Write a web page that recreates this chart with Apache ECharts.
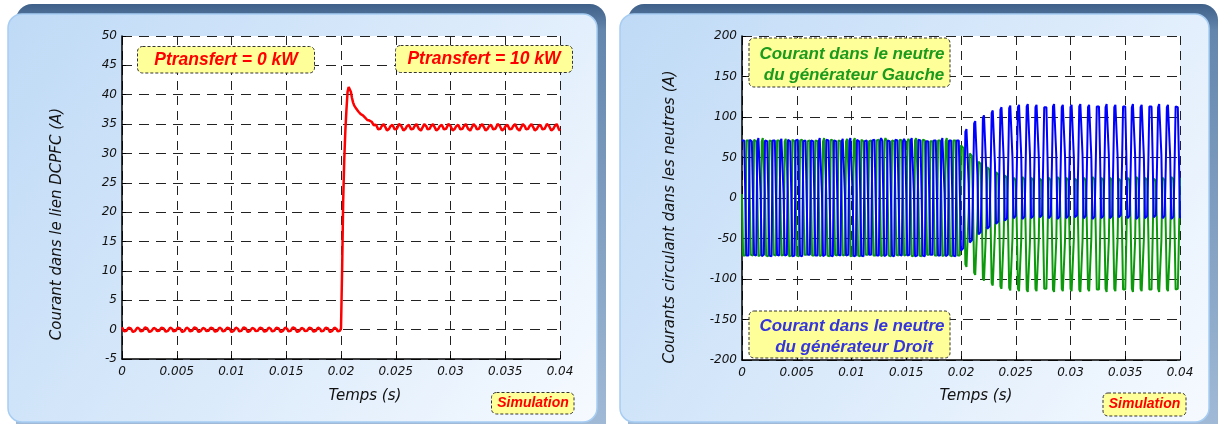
<!DOCTYPE html>
<html><head><meta charset="utf-8">
<script src="https://cdn.jsdelivr.net/npm/echarts@6/dist/echarts.min.js"></script>
<style>html,body{margin:0;padding:0;background:#fff}#c{width:1220px;height:424px}</style>
</head><body><div id="c"></div>
<script>
// sampling step of the simulation traces (s)
const dt = 0.0001;
const timeRange = [0, 0.04];
const timeInterval = 0.005;
const leftYRange = [-5, 50], leftYInterval = 5;
const rightYRange = [-200, 200], rightYInterval = 50;

// Courant dans le lien DCPFC (A), one value every dt
const dcLinkCurrent = [
0.4,0.1,-0.3,-0.45,-0.2,0.1,0.35,0.4,0.2,-0.1,-0.4,-0.45,-0.2,0.1,0.35,
0.35,0.1,-0.3,-0.4,-0.2,0.1,0.4,0.4,0.2,-0.1,-0.4,-0.4,-0.2,0.1,0.3,
0.4,0.1,-0.25,-0.45,-0.2,0.1,0.35,0.45,0.2,-0.1,-0.35,-0.45,-0.2,0.1,0.35,
0.4,0.1,-0.3,-0.45,-0.2,0.1,0.35,0.4,0.2,-0.1,-0.4,-0.45,-0.2,0.1,0.35,
0.35,0.1,-0.3,-0.4,-0.2,0.1,0.4,0.4,0.2,-0.1,-0.4,-0.4,-0.2,0.1,0.3,
0.4,0.1,-0.25,-0.45,-0.2,0.1,0.35,0.45,0.2,-0.1,-0.35,-0.45,-0.2,0.1,0.35,
0.4,0.1,-0.3,-0.45,-0.2,0.1,0.35,0.4,0.2,-0.1,-0.4,-0.45,-0.2,0.1,0.35,
0.35,0.1,-0.3,-0.4,-0.2,0.1,0.4,0.4,0.2,-0.1,-0.4,-0.4,-0.2,0.1,0.3,
0.4,0.1,-0.25,-0.45,-0.2,0.1,0.35,0.45,0.2,-0.1,-0.35,-0.45,-0.2,0.1,0.35,
0.4,0.1,-0.3,-0.45,-0.2,0.1,0.35,0.4,0.2,-0.1,-0.4,-0.45,-0.2,0.1,0.35,
0.35,0.1,-0.3,-0.4,-0.2,0.1,0.4,0.4,0.2,-0.1,-0.4,-0.4,-0.2,0.1,0.3,
0.4,0.1,-0.25,-0.45,-0.2,0.1,0.35,0.45,0.2,-0.1,-0.35,-0.45,-0.2,0.1,0.35,
0.4,0.1,-0.3,-0.45,-0.2,0.1,0.35,0.4,0.2,-0.1,-0.4,-0.45,-0.2,0.1,0.35,
0.4,0.1,-0.3,-0.4,-0.2,
0.2,10,22,29,34,37.5,40.5,41.3,41.2,40.5,39.5,38.7,38.2,37.9,37.6,37.3,
37.1,36.9,36.7,36.6,36.5,36.2,36.1,35.9,35.7,35.8,35.6,35.3,35.4,35.1,34.8,35.0,
34.9,34.6,34.1,33.9,34.2,34.6,34.9,35.0,34.7,34.3,33.9,33.9,34.2,34.6,34.9,
34.9,34.5,34.1,33.9,34.2,34.6,35.0,35.0,34.7,34.3,33.9,33.8,34.2,34.6,34.9,
34.9,34.6,34.1,33.8,34.2,34.6,34.9,35.0,34.7,34.2,33.9,33.9,34.2,34.6,35.0,
34.9,34.6,34.1,33.9,34.2,34.6,34.9,35.0,34.7,34.3,33.9,33.9,34.2,34.6,34.9,
34.9,34.5,34.1,33.9,34.2,34.6,35.0,35.0,34.7,34.3,33.9,33.8,34.2,34.6,34.9,
34.9,34.6,34.1,33.8,34.2,34.6,34.9,35.0,34.7,34.2,33.9,33.9,34.2,34.6,35.0,
34.9,34.6,34.1,33.9,34.2,34.6,34.9,35.0,34.7,34.3,33.9,33.9,34.2,34.6,34.9,
34.9,34.5,34.1,33.9,34.2,34.6,35.0,35.0,34.7,34.3,33.9,33.8,34.2,34.6,34.9,
34.9,34.6,34.1,33.8,34.2,34.6,34.9,35.0,34.7,34.2,33.9,33.9,34.2,34.6,35.0,
34.9,34.6,34.1,33.9,34.2,34.6,34.9,35.0,34.7,34.3,33.9,33.9,34.2,34.6,34.9,
34.9,34.5,34.1,33.9,34.2,34.6,35.0,35.0,34.7,34.3,33.9,33.8,34.2,34.6,34.9,
35.0,34.6,34.1,33.9
];

// Courant dans le neutre du générateur Gauche (A)
const neutralLeftGen = [
5,-71,-73,-71,71,73,71, 4,-70,-72,-71,72,72,70, 6,-72,-74,-70,70,74,72, 5,-71,-73,-72,71,73,70,
5,-70,-72,-71,71,72,71, 4,-71,-73,-70,70,73,71, 6,-72,-74,-71,72,74,70, 5,-71,-73,-72,71,73,72,
5,-70,-72,-70,70,72,71, 4,-71,-73,-71,71,73,70, 6,-72,-74,-70,70,74,72, 5,-71,-73,-72,72,73,71,
5,-70,-72,-71,71,72,70, 4,-71,-73,-70,70,73,71, 6,-72,-74,-71,71,74,72, 5,-71,-73,-72,72,73,70,
5,-70,-72,-70,70,72,71, 4,-71,-73,-71,71,73,72, 6,-72,-74,-70,70,74,71, 5,-71,-73,-72,71,73,70,
5,-70,-72,-71,72,72,71, 4,-71,-73,-70,70,73,70, 6,-72,-74,-71,71,74,72, 5,-71,-73,-72,72,73,71,
5,-70,-72,-70,70,72,70, 4,-71,-73,-71,71,73,71, 6,-72,-74,-70,70,74,72, 5,-71,-73,-72,71,73,71,
5,-71,-73,-71,
65,64,62,-3,-82,-85,-83,-18,
55,54,52,-13,-92,-95,-93,-28,
45,44,42,-21,-99,-102,-100,-36,
38,37,35,-28,-105,-108,-106,-42,
32,31,29,-33,-109,-112,-110,-47,
28,27,25,-36,-111,-114,-112,-50,
25,24,22,-38,-112,-115,-113,-52,
26,25,23,-37,-113,-116,-114,-53,
25,24,22,-38,-112,-115,-113,-52,
24,23,21,-39,-112,-114,-112,-51,
25,24,22,-38,-113,-116,-114,-53,
26,25,23,-37,-112,-115,-113,-52,
25,24,22,-38,-112,-115,-113,-52,
24,24,21,-38,-113,-116,-114,-53,
25,24,22,-38,-112,-115,-113,-51,
26,25,23,-37,-113,-115,-113,-52,
25,24,22,-38,-112,-116,-114,-53,
25,23,22,-39,-112,-115,-113,-52,
24,24,21,-38,-113,-115,-113,-52,
25,24,22,-38,-112,-116,-114,-53,
26,25,23,-37,-112,-115,-113,-51,
25,24,22,-38,-113,-115,-113,-52,
24,23,21,-39,-112,-116,-114,-53,
25,24,22,-38,-112,-115,-113,-52,
26,25,23,-37,-113,-115,-112,-51,
25
];

// Courant dans le neutre du générateur Droit (A)
const neutralRightGen = [
71,73,71,5,-71,-73,-71, 72,72,70,4,-70,-72,-71, 70,74,72,6,-72,-74,-70, 71,73,70,5,-71,-73,-72,
71,72,71,5,-70,-72,-71, 70,73,71,4,-71,-73,-70, 72,74,70,6,-72,-74,-71, 71,73,72,5,-71,-73,-72,
70,72,71,5,-70,-72,-70, 71,73,70,4,-71,-73,-71, 70,74,72,6,-72,-74,-70, 72,73,71,5,-71,-73,-72,
71,72,70,5,-70,-72,-71, 70,73,71,4,-71,-73,-70, 71,74,72,6,-72,-74,-71, 72,73,70,5,-71,-73,-72,
70,72,71,5,-70,-72,-70, 71,73,72,4,-71,-73,-71, 70,74,71,6,-72,-74,-70, 71,73,70,5,-71,-73,-72,
72,72,71,5,-70,-72,-71, 70,73,70,4,-71,-73,-70, 71,74,72,6,-72,-74,-71, 72,73,71,5,-71,-73,-72,
70,72,70,5,-70,-72,-70, 71,73,71,4,-71,-73,-71, 70,74,72,6,-72,-74,-70, 71,73,71,5,-71,-73,-72,
71,73,71,5,
-65,-64,-62,3,82,85,83,18,
-55,-54,-52,13,92,95,93,28,
-45,-44,-42,21,99,102,100,36,
-38,-37,-35,28,105,108,106,42,
-32,-31,-29,33,109,112,110,47,
-28,-27,-25,36,111,114,112,50,
-25,-24,-22,38,112,115,113,52,
-26,-25,-23,37,113,116,114,53,
-25,-24,-22,38,112,115,113,52,
-24,-23,-21,39,112,114,112,51,
-25,-24,-22,38,113,116,114,53,
-26,-25,-23,37,112,115,113,52,
-25,-24,-22,38,112,115,113,52,
-24,-24,-21,38,113,116,114,53,
-25,-24,-22,38,112,115,113,51,
-26,-25,-23,37,113,115,113,52,
-25,-24,-22,38,112,116,114,53,
-25,-23,-22,39,112,115,113,52,
-24,-24,-21,38,113,115,113,52,
-25,-24,-22,38,112,116,114,53,
-26,-25,-23,37,112,115,113,51,
-25,-24,-22,38,113,115,113,52,
-24,-23,-21,39,112,116,114,53,
-25,-24,-22,38,112,115,113,52,
-26,-25,-23,37,113,115,112,51,
-25
];

const toPairs = arr => arr.map((v, i) => [+(i * dt).toFixed(4), v]);

const chart = echarts.init(document.getElementById('c'), null, {renderer: 'canvas'});
const LG = echarts.graphic.LinearGradient;

const tickFont = {fontFamily: 'DejaVu Sans', fontStyle: 'italic', fontSize: 12, color: '#111'};
function xAxisCfg(gi) {
  return {
    gridIndex: gi, type: 'value', min: timeRange[0], max: timeRange[1], interval: timeInterval,
    axisLine: {show: true, onZero: false, lineStyle: {color: '#000', width: 1.5}},
    axisTick: {show: true, inside: true, length: 4, lineStyle: {color: '#000'}},
    axisLabel: Object.assign({margin: 7}, tickFont),
    splitLine: {show: true, lineStyle: {color: '#222', type: [9, 6], width: 1}}
  };
}
function yAxisCfg(gi, range, interval) {
  return {
    gridIndex: gi, type: 'value', min: range[0], max: range[1], interval: interval,
    axisLine: {show: true, onZero: false, lineStyle: {color: '#000', width: 1.5}},
    axisTick: {show: true, inside: true, length: 4, lineStyle: {color: '#000'}},
    axisLabel: Object.assign({margin: 5}, tickFont),
    splitLine: {show: true, lineStyle: {color: '#222', type: [10, 7], width: 1}}
  };
}

function panel(x0) {
  return [
    {type: 'rect', z: -20, silent: true,
     shape: {x: x0 + 16, y: 4, width: 590, height: 440, r: 16},
     style: {fill: new LG(0, 0, 0, 1, [{offset: 0, color: '#3f6088'}, {offset: 0.06, color: '#6486ad'}, {offset: 1, color: '#a3bcd8'}])}},
    {type: 'rect', z: -19, silent: true,
     shape: {x: x0 + 8, y: 14, width: 589, height: 408, r: 14},
     style: {fill: new LG(0, 0, 1, 1, [{offset: 0, color: '#bfdaf6'}, {offset: 0.55, color: '#dcebfb'}, {offset: 1, color: '#f6faff'}]),
             stroke: '#a7cdf3', lineWidth: 1.5}}
  ];
}
function box(x, y, w, h) {
  return {type: 'rect', z: 50, silent: true, shape: {x: x, y: y, width: w, height: h, r: 5},
          style: {fill: '#ffff99', stroke: '#333', lineWidth: 1, lineDash: [3, 2]}};
}
function txt(s, x, y, opts) {
  return {type: 'text', z: 51, silent: true, x: x, y: y, rotation: opts.rot || 0,
          style: {text: s, x: 0, y: 0, align: 'center', verticalAlign: 'middle',
                  fontFamily: opts.family || 'Liberation Sans', fontStyle: 'italic', fontWeight: opts.weight || 'bold',
                  fontSize: opts.size || 17, fill: opts.color || '#000'}};
}
const axisName = {family: 'DejaVu Sans', weight: 'normal', size: 15, color: '#111'};

const graphics = [].concat(
  panel(0), panel(612),
  [
    box(137.5, 46.5, 177, 26.5), txt('Ptransfert = 0 kW', 226, 60, {color: '#ff0000', size: 17.5}),
    box(395.5, 45.5, 177, 27), txt('Ptransfert = 10 kW', 484, 59, {color: '#ff0000', size: 17.5}),
    box(491.5, 392.5, 82.5, 21.5), txt('Simulation', 533, 403.5, {color: '#ff0000', size: 14}),
    box(749, 38, 201, 49), txt('Courant dans le neutre', 852, 54, {color: '#1c9a1c'}), txt('du générateur Gauche', 854, 75, {color: '#1c9a1c'}),
    box(749, 311, 201, 47), txt('Courant dans le neutre', 852, 326, {color: '#3535dd'}), txt('du générateur Droit', 854, 347, {color: '#3535dd'}),
    box(1103, 393, 83, 23), txt('Simulation', 1144.5, 404.5, {color: '#ff0000', size: 14}),
    txt('Temps (s)', 365, 396, axisName),
    txt('Temps (s)', 976, 396, axisName),
    txt('Courant dans le lien DCPFC (A)', 57, 224, Object.assign({rot: Math.PI / 2}, axisName)),
    txt('Courants circulant dans les neutres (A)', 670, 217, Object.assign({rot: Math.PI / 2}, axisName))
  ]
);

chart.setOption({
  animation: false,
  grid: [
    {left: 122, top: 36, width: 438, height: 323, show: true, backgroundColor: '#ffffff', borderWidth: 0},
    {left: 742, top: 36, width: 438, height: 324, show: true, backgroundColor: '#ffffff', borderWidth: 0}
  ],
  xAxis: [xAxisCfg(0), xAxisCfg(1)],
  yAxis: [yAxisCfg(0, leftYRange, leftYInterval), yAxisCfg(1, rightYRange, rightYInterval)],
  series: [
    {type: 'line', name: 'Courant DCPFC', xAxisIndex: 0, yAxisIndex: 0, data: toPairs(dcLinkCurrent),
     showSymbol: false, lineStyle: {color: '#ff0000', width: 2.5}, itemStyle: {color: '#ff0000'}, z: 3},
    {type: 'line', name: 'Neutre Gauche', xAxisIndex: 1, yAxisIndex: 1, data: toPairs(neutralLeftGen),
     showSymbol: false, lineStyle: {color: '#0c9a0c', width: 2}, itemStyle: {color: '#0c9a0c'}, z: 3},
    {type: 'line', name: 'Neutre Droit', xAxisIndex: 1, yAxisIndex: 1, data: toPairs(neutralRightGen),
     showSymbol: false, lineStyle: {color: '#0000ff', width: 2}, itemStyle: {color: '#0000ff'}, z: 4}
  ],
  graphic: graphics
});
</script>
</body></html>
